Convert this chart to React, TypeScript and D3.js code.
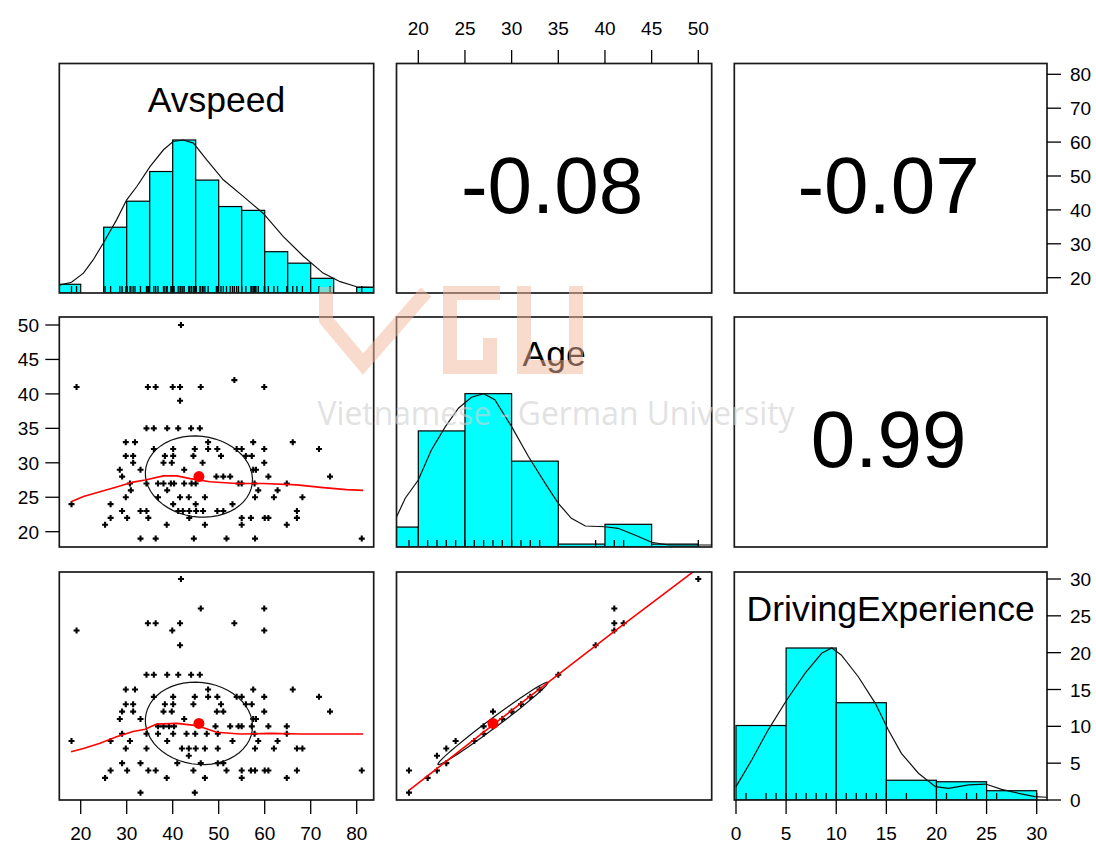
import React from "react";
import * as d3 from "d3";

// ---------------- data ----------------
const avspeedTicks = [20, 30, 40, 50, 60, 70, 80];
const ageTicks = [20, 25, 30, 35, 40, 45, 50];
const expTicks = [0, 5, 10, 15, 20, 25, 30];

const varNames = ["Avspeed", "Age", "DrivingExperience"];
const corrSpeedAge = -0.08;
const corrSpeedExp = -0.07;
const corrAgeExp = 0.99;

// histogram bins (relative heights, max bar = 1)
const avspeedBreaks = [15, 20, 25, 30, 35, 40, 45, 50, 55, 60, 65, 70, 75, 80, 85];
const avspeedBarHeights = [0.057, 0, 0.43, 0.6, 0.794, 1, 0.738, 0.565, 0.54, 0.27, 0.195, 0.096, 0, 0.037];
const ageBreaks = [15, 20, 25, 30, 35, 40, 45, 50];
const ageBarHeights = [0.13, 0.757, 1, 0.56, 0.019, 0.148, 0.019];
const expBreaks = [0, 5, 10, 15, 20, 25, 30];
const expBarHeights = [0.49, 1, 0.64, 0.13, 0.12, 0.061];

// density curves (x, relative density)
const avspeedDensity: [number, number][] = [
  [15.35, 0.052], [18.0, 0.07], [20.6, 0.13], [22.7, 0.216], [24.9, 0.325], [27.8, 0.478],
  [30.0, 0.609], [32.2, 0.696], [35.1, 0.827], [38.0, 0.936], [40.1, 0.99], [42.3, 1.0],
  [44.5, 0.98], [47.4, 0.87], [51.0, 0.74], [55.4, 0.63], [59.7, 0.52], [64.0, 0.37],
  [68.4, 0.24], [72.7, 0.13], [76.4, 0.074], [80.0, 0.041], [83.6, 0.037],
];
const ageDensity: [number, number][] = [
  [17.6, 0.187], [18.6, 0.318], [20, 0.437], [21.4, 0.633], [22.9, 0.785], [24.3, 0.905],
  [25.7, 0.977], [27.0, 1.0], [28.2, 0.96], [30.0, 0.785], [31.8, 0.59], [33.6, 0.415],
  [35, 0.285], [36.4, 0.187], [37.9, 0.137], [40, 0.132], [41.4, 0.122], [43.2, 0.078],
  [45, 0.031], [46.8, 0.013], [51.4, 0.013],
];
const expDensity: [number, number][] = [
  [0, 0.088], [1.57, 0.263], [3.2, 0.46], [5.06, 0.658], [6.9, 0.834], [8.55, 0.965],
  [9.55, 1.0], [10.5, 0.954], [12.2, 0.811], [13.9, 0.636], [15.2, 0.46], [16.5, 0.307],
  [18.2, 0.176], [19.9, 0.088], [21.2, 0.077], [23.2, 0.099], [24.9, 0.105], [26.5, 0.07],
  [28.2, 0.044], [29.8, 0.022], [31, 0.018],
];

// means and standard deviations (for the red dot and ellipse)
const meanSpeed = 45.7, sdSpeed = 11.65;
const meanAge = 28.0, sdAge = 5.9;
const meanExp = 10.4, sdExp = 5.6;

// scatter points: rows of [y value, list of Avspeed values]
const speedAgeRows: [number, number[]][] = [
  [50, [41.8]],
  [42, [53.4]],
  [41, [19.1, 34.6, 36.3, 40.0, 41.6, 46.1, 59.9]],
  [39, [41.6]],
  [35, [34.3, 35.9, 38.8, 41.2, 44.0, 45.9]],
  [33, [29.8, 31.8, 47.7, 57.5, 66.1]],
  [32, [35.9, 40.1, 44.8, 47.7, 49.7, 53.9, 55.0, 59.9, 71.8]],
  [31, [29.8, 31.4, 38.3, 40.1, 44.5, 50.5, 55.9, 57.2]],
  [30, [31.4, 38.0, 39.8, 46.5, 59.9]],
  [29, [28.5, 33.0, 42.5, 57.5, 58.1]],
  [28, [29.0, 49.5, 51.0, 52.5, 60.8, 74.2]],
  [27, [30.7, 34.3, 36.8, 38.0, 39.6, 40.3, 42.5, 44.1, 45.0, 54.3, 55.0, 57.8, 64.8]],
  [26, [30.9, 38.8, 58.6, 62.8]],
  [25, [29.8, 36.8, 41.6, 43.5, 47.0, 57.9, 62.0, 68.2]],
  [24, [18.0, 26.5, 40.1, 45.0, 53.0]],
  [23, [29.0, 33.0, 34.3, 41.2, 42.2, 43.6, 45.1, 46.6, 49.7, 51.0, 67.0]],
  [22, [26.5, 30.1, 34.7, 43.6, 55.0, 57.0, 60.0, 60.8, 67.0]],
  [21, [25.3, 38.7, 47.0, 55.0, 64.8]],
  [19, [33.0, 36.3, 44.6, 51.7, 57.9, 81.1]],
];
const speedExpRows: [number, number[]][] = [
  [30, [41.8]],
  [26, [46.1, 59.9]],
  [24, [34.6, 36.3, 41.6, 53.4]],
  [23, [19.1, 39.9, 59.9]],
  [21, [41.6]],
  [17, [34.3, 35.9, 38.8, 41.2, 44.0, 45.9]],
  [15, [29.8, 31.8, 47.7, 57.5, 66.1]],
  [14, [35.9, 40.1, 44.8, 47.7, 49.7, 53.9, 55.0, 59.9, 71.8]],
  [13, [29.8, 31.4, 38.3, 40.1, 44.5, 50.5, 55.9, 57.2]],
  [12, [29.0, 31.4, 38.0, 39.8, 49.6, 51.0, 59.9, 74.2]],
  [11, [28.5, 33.0, 42.5, 57.5, 58.1]],
  [10, [36.8, 38.0, 39.2, 40.3, 49.3, 52.5, 54.3, 55.0, 57.2, 60.8, 64.8]],
  [9, [29.0, 34.3, 36.8, 40.1, 43.0, 44.9, 47.4, 49.8, 57.8, 64.8]],
  [8, [18.0, 26.5, 30.7, 38.8, 53.0, 58.6, 62.8]],
  [7, [29.8, 34.3, 42.0, 43.5, 45.0, 47.0, 49.8, 57.9, 62.0, 67.0, 68.2]],
  [6, [43.5]],
  [5, [29.0, 33.0, 41.0, 46.1, 49.8, 51.0]],
  [4, [26.5, 30.1, 34.7, 36.3, 44.5, 51.7, 55.0, 57.0, 57.9, 60.0, 60.8, 67.0, 81.1]],
  [3, [25.3, 38.7, 47.0, 55.0, 64.8]],
  [1, [33.0, 44.8]],
];
const ageExpPoints: [number, number][] = [
  [19, 1], [19, 4], [21, 3], [22, 4], [22, 6], [23, 5], [23, 7], [24, 8], [26, 8], [27, 9],
  [27, 10], [28, 10], [28, 12], [29, 11], [30, 12], [31, 13], [32, 14], [33, 15], [35, 17],
  [39, 21], [41, 23], [41, 24], [41, 26], [42, 24], [50, 30],
];

// smoothers (red lines)
const speedAgeSmooth: [number, number][] = [
  [17.9, 24.35], [20.6, 25.1], [24.2, 25.8], [27.8, 26.5], [31.4, 27.2], [34.0, 27.5],
  [38.0, 28.1], [40.9, 28.1], [43.8, 27.7], [48.1, 27.25], [53.9, 27.0], [59.7, 27.0],
  [67.0, 26.8], [72.7, 26.4], [77.8, 26.1], [81.4, 26.0],
];
const speedExpSmooth: [number, number][] = [
  [17.9, 6.55], [20.6, 7.0], [24.2, 7.7], [27.8, 8.6], [31.4, 9.3], [34.0, 9.6], [36.5, 10.3],
  [40.9, 10.4], [45.2, 10.1], [49.6, 9.2], [54.6, 8.95], [61.2, 9.05], [67.7, 8.95], [81.4, 8.95],
];
const ageExpSmooth: [number, number][] = [[19, 1.3], [28, 10.2], [41, 22.9], [50, 31.5], [52, 33.4]];

// ---------------- layout ----------------
const W = 1096, H = 845;
const colX: [number, number][] = [[59.3, 373.7], [396.5, 711.7], [734.3, 1047]];
const rowY: [number, number][] = [[63.5, 293], [317, 547], [572, 800]];
const FONT = "'Liberation Sans', Arial, Helvetica, sans-serif";

const speedX = d3.scaleLinear().domain([20, 80]).range([80.7, 356.7]);
const ageX = d3.scaleLinear().domain([20, 50]).range([418.3, 698.3]);
const expX = d3.scaleLinear().domain([0, 30]).range([736, 1036.7]);
const speedY = d3.scaleLinear().domain([20, 80]).range([277.7, 74.3]);
const ageY = d3.scaleLinear().domain([20, 50]).range([531.7, 325]);
const expY = d3.scaleLinear().domain([0, 30]).range([800, 579]);

const flatten = (rows: [number, number[]][]) =>
  rows.flatMap(([y, xs]) => xs.map((x) => [x, y] as [number, number]));

function ellipsePts(mx: number, my: number, sx: number, sy: number, r: number, n = 51): [number, number][] {
  const th = r !== 0 ? Math.sign(r) / Math.SQRT2 : 1 / Math.SQRT2;
  const a = Math.sqrt(1 + r), b = Math.sqrt(1 - r);
  return d3.range(n + 1).map((i) => {
    const t = (i * 2 * Math.PI) / n;
    const c = Math.cos(t), s = Math.sin(t);
    return [mx + (c * a * th - s * b * th) * sx, my + (c * a * th + s * b * th) * sy];
  });
}

function Scatter({ ci, ri, pts, sx, sy, smooth, mx, my, sdx, sdy, r }: any) {
  const id = `clip-${ri}-${ci}`;
  const line = d3.line<[number, number]>().x((d) => sx(d[0])).y((d) => sy(d[1]));
  return (
    <g clipPath={`url(#${id})`}>
      {pts.map((p: [number, number], i: number) => {
        const x = sx(p[0]), y = sy(p[1]);
        return <path key={i} d={`M${x - 3},${y}h6M${x},${y - 3}v6`} stroke="#000" strokeWidth={2.1} />;
      })}
      <path d={line(ellipsePts(mx, my, sdx, sdy, r)) || ""} fill="none" stroke="#111" strokeWidth={1.2} />
      <path d={line(smooth) || ""} fill="none" stroke="#ff0000" strokeWidth={1.6} />
      <circle cx={sx(mx)} cy={sy(my)} r={5.5} fill="#ff0000" />
    </g>
  );
}

function Diag({ i, breaks, heights, density, sx, rug }: any) {
  const [x0, x1] = colX[i];
  const [y0, y1] = rowY[i];
  const hy = d3.scaleLinear().domain([0, 1.5]).range([y1, y0]);
  const line = d3.line<[number, number]>().x((d) => sx(d[0])).y((d) => hy(d[1]));
  const id = `clip-${i}-${i}`;
  return (
    <g>
      <g clipPath={`url(#${id})`}>
        {heights.map((h: number, k: number) => (
          <rect key={k} x={sx(breaks[k])} y={hy(h)} width={sx(breaks[k + 1]) - sx(breaks[k])}
            height={hy(0) - hy(h)} fill="#00ffff" stroke="#000" strokeWidth={1.2} />
        ))}
        <path d={line(density) || ""} fill="none" stroke="#111" strokeWidth={1.2} />
        {rug.map((v: number, k: number) => (
          <line key={k} x1={sx(v)} x2={sx(v)} y1={y1} y2={y1 - 7} stroke="#000" strokeWidth={1.3} />
        ))}
      </g>
      <text x={(x0 + x1) / 2} y={y0 + 48.5} textAnchor="middle" fontSize={35.5} fontFamily={FONT}>{varNames[i]}</text>
    </g>
  );
}

export default function App() {
  const speedAgePts = flatten(speedAgeRows);
  const speedExpPts = flatten(speedExpRows);
  const speedRug = Array.from(new Set(speedAgePts.map((d) => d[0])));
  const ageRug = Array.from(new Set(speedAgePts.map((d) => d[1])));
  const expRug = Array.from(new Set(speedExpPts.map((d) => d[1])));

  const corrCells = [
    { ri: 0, ci: 1, v: corrSpeedAge },
    { ri: 0, ci: 2, v: corrSpeedExp },
    { ri: 1, ci: 2, v: corrAgeExp },
  ];

  const tickStyle = { stroke: "#000", strokeWidth: 1.3 };
  return (
    <svg width={W} height={H} style={{ position: "absolute", left: 0, top: 0, background: "#fff" }}>
      <defs>
        {rowY.map((ry, ri) =>
          colX.map((cx, ci) => (
            <clipPath id={`clip-${ri}-${ci}`} key={`${ri}-${ci}`}>
              <rect x={cx[0]} y={ry[0]} width={cx[1] - cx[0]} height={ry[1] - ry[0]} />
            </clipPath>
          ))
        )}
      </defs>
      <rect x={0} y={0} width={W} height={H} fill="#fff" />

      {/* diagonal */}
      <Diag i={0} breaks={avspeedBreaks} heights={avspeedBarHeights} density={avspeedDensity} sx={speedX} rug={speedRug} />
      <Diag i={1} breaks={ageBreaks} heights={ageBarHeights} density={ageDensity} sx={ageX} rug={ageRug} />
      <Diag i={2} breaks={expBreaks} heights={expBarHeights} density={expDensity} sx={expX} rug={expRug} />

      {/* lower panels */}
      <Scatter ci={0} ri={1} pts={speedAgePts} sx={speedX} sy={ageY} smooth={speedAgeSmooth}
        mx={meanSpeed} my={meanAge} sdx={sdSpeed} sdy={sdAge} r={corrSpeedAge} />
      <Scatter ci={0} ri={2} pts={speedExpPts} sx={speedX} sy={expY} smooth={speedExpSmooth}
        mx={meanSpeed} my={meanExp} sdx={sdSpeed} sdy={sdExp} r={corrSpeedExp} />
      <Scatter ci={1} ri={2} pts={ageExpPoints} sx={ageX} sy={expY} smooth={ageExpSmooth}
        mx={meanAge} my={meanExp} sdx={sdAge} sdy={sdExp} r={corrAgeExp} />

      {/* correlations */}
      {corrCells.map((c, k) => (
        <text key={k} x={(colX[c.ci][0] + colX[c.ci][1]) / 2 - 2} y={(rowY[c.ri][0] + rowY[c.ri][1]) / 2 + 34.5}
          textAnchor="middle" fontSize={80} fontFamily={FONT}>{c.v.toFixed(2)}</text>
      ))}

      {/* panel frames */}
      {rowY.map((ry, ri) =>
        colX.map((cx, ci) => (
          <rect key={`f${ri}-${ci}`} x={cx[0]} y={ry[0]} width={cx[1] - cx[0]} height={ry[1] - ry[0]}
            fill="none" stroke="#1a1a1a" strokeWidth={1.7} />
        ))
      )}

      {/* top axis: Age (column 2) */}
      {ageTicks.map((t) => (
        <g key={`ta${t}`}>
          <line x1={ageX(t)} x2={ageX(t)} y1={rowY[0][0]} y2={50} {...tickStyle} />
          <text x={ageX(t)} y={35} textAnchor="middle" fontSize={19} fontFamily={FONT}>{t}</text>
        </g>
      ))}
      {/* right axis row 1: Avspeed */}
      {avspeedTicks.map((t) => (
        <g key={`rs${t}`}>
          <line x1={colX[2][1]} x2={colX[2][1] + 14} y1={speedY(t)} y2={speedY(t)} {...tickStyle} />
          <text x={1070} y={speedY(t) + 7} fontSize={19} fontFamily={FONT}>{t}</text>
        </g>
      ))}
      {/* left axis row 2: Age */}
      {ageTicks.map((t) => (
        <g key={`la${t}`}>
          <line x1={colX[0][0]} x2={colX[0][0] - 14} y1={ageY(t)} y2={ageY(t)} {...tickStyle} />
          <text x={39} y={ageY(t) + 7} textAnchor="end" fontSize={19} fontFamily={FONT}>{t}</text>
        </g>
      ))}
      {/* bottom axis column 1: Avspeed */}
      {avspeedTicks.map((t) => (
        <g key={`bs${t}`}>
          <line x1={speedX(t)} x2={speedX(t)} y1={rowY[2][1]} y2={814} {...tickStyle} />
          <text x={speedX(t)} y={840} textAnchor="middle" fontSize={19} fontFamily={FONT}>{t}</text>
        </g>
      ))}
      {/* bottom axis column 3: DrivingExperience */}
      {expTicks.map((t) => (
        <g key={`be${t}`}>
          <line x1={expX(t)} x2={expX(t)} y1={rowY[2][1]} y2={814} {...tickStyle} />
          <text x={expX(t)} y={840} textAnchor="middle" fontSize={19} fontFamily={FONT}>{t}</text>
        </g>
      ))}
      {/* right axis row 3: DrivingExperience */}
      {expTicks.map((t) => (
        <g key={`re${t}`}>
          <line x1={colX[2][1]} x2={colX[2][1] + 14} y1={expY(t)} y2={expY(t)} {...tickStyle} />
          <text x={1070} y={expY(t) + 7} fontSize={19} fontFamily={FONT}>{t}</text>
        </g>
      ))}

      {/* watermark */}
      <g opacity={0.5} fill="none" stroke="#f4b89e" strokeWidth={14} strokeLinejoin="miter">
        <path d="M326,287 L326,320 L363,364 L426,292" />
        <path d="M500,293 L450,293 L450,367 L490,367 L490,338" />
        <path d="M524,286 L524,367 L576,367 L576,286" />
      </g>
      <text x={556} y={425} textAnchor="middle" fontSize={33} fontFamily="'Open Sans', sans-serif"
        fill="#cfcfcf" opacity={0.6} textLength={477} lengthAdjust="spacingAndGlyphs">
        Vietnamese - German University
      </text>
    </svg>
  );
}
